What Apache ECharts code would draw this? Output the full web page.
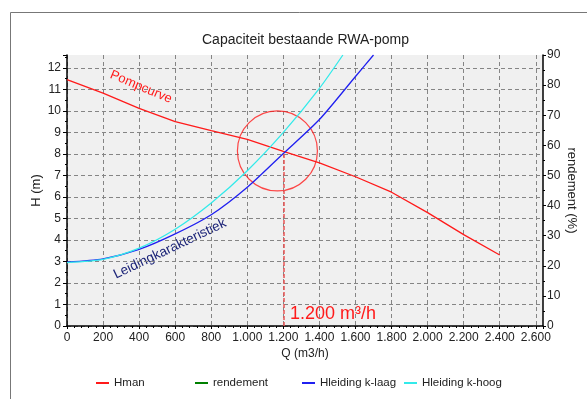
<!DOCTYPE html>
<html>
<head>
<meta charset="utf-8">
<script src="https://cdn.jsdelivr.net/npm/echarts@6/dist/echarts.min.js"></script>
<style>
    html, body {margin:0; padding:0; background:#fff;}
    #pomp {width:587px; height:399px;}
</style>
</head>
<body>
<div id="pomp"></div>
<script>
// Pompcurve (Hman)
var qPomp = [0, 200, 400, 600, 800, 1000, 1200, 1400, 1600, 1800, 2000, 2200, 2400];
var hPomp = [11.45, 10.83, 10.12, 9.5, 9.08, 8.68, 8.12, 7.58, 6.94, 6.22, 5.27, 4.25, 3.3];
// Leidingkarakteristiek k-laag
var qLaag = [0, 200, 400, 600, 800, 1000, 1200, 1400, 1600, 1700];
var hLaag = [2.97, 3.12, 3.56, 4.28, 5.17, 6.45, 8.02, 9.6, 11.6, 12.6];
// Leidingkarakteristiek k-hoog
var qHoog = [0, 200, 400, 600, 800, 1000, 1200, 1400, 1530];
var hHoog = [2.95, 3.1, 3.62, 4.5, 5.72, 7.22, 9.0, 11.05, 12.6];
// werkpunt
var werkpuntQ = 1200;
var werkpuntH = 8.1;
var cirkel = [1167, 8.14];
var legendNames = ['Hman', 'rendement', 'Hleiding k-laag', 'Hleiding k-hoog'];

function pairs(q, h) {
    var out = [];
    for (var i = 0; i < q.length; i++) {
        out.push([q[i], h[i]]);
    }
    return out;
}

function puntNotatie(v) {
    if (v < 1000) return '' + v;
    var rest = '' + (v % 1000);
    while (rest.length < 3) rest = '0' + rest;
    return Math.floor(v / 1000) + '.' + rest;
}

var font = 'Liberation Sans, Arial, sans-serif';
var gridLine = {show: true, showMaxLine: false, lineStyle: {color: '#858585', type: [4, 3], width: 1}};

var myChart = echarts.init(document.getElementById('pomp'));
var option = {
    animation: false,
    backgroundColor: '#fff',
    title: {
        text: 'Capaciteit bestaande RWA-pomp',
        left: 202,
        top: 33,
        padding: 0,
        textStyle: {color: '#222', fontSize: 14, fontWeight: 'normal', fontFamily: font}
    },
    legend: [0, 1, 2, 3].map(function (i) {
        return {
            data: [legendNames[i]],
            left: [96, 195, 302, 404][i],
            top: 377,
            icon: 'rect',
            itemWidth: 13,
            itemHeight: 2,
            padding: 0,
            textStyle: {color: '#222', fontSize: 11.5, fontFamily: font}
        };
    }),
    grid: {
        left: 67,
        right: 44,
        top: 55,
        bottom: 73,
        containLabel: false,
        outerBoundsMode: 'none',
        show: true,
        backgroundColor: '#f0f0f0',
        borderWidth: 0
    },
    xAxis: {
        type: 'value',
        min: 0,
        max: 2640,
        interval: 200,
        name: 'Q (m3/h)',
        nameLocation: 'middle',
        nameGap: 22,
        nameMoveOverlap: false,
        nameTextStyle: {color: '#222', fontSize: 12, fontFamily: font},
        axisLine: {onZero: false, lineStyle: {color: '#000', width: 1.5}},
        axisTick: {length: 3, lineStyle: {color: '#000'}},
        minorTick: {show: true, splitNumber: 5, length: 2, lineStyle: {color: '#000'}},
        axisLabel: {
            color: '#222', fontSize: 12, fontFamily: font, margin: 6,
            showMaxLabel: false,
            formatter: function (v) { return puntNotatie(v); }
        },
        splitLine: gridLine
    },
    yAxis: [
        {
            type: 'value',
            min: 0,
            max: 12.6,
            interval: 1,
            name: 'H (m)',
            nameLocation: 'middle',
            nameRotate: 90,
            nameGap: 24,
            nameMoveOverlap: false,
            nameTextStyle: {color: '#222', fontSize: 13, fontFamily: font},
            axisLine: {show: true, onZero: false, lineStyle: {color: '#000', width: 1.5}},
            axisTick: {show: true, length: 4, lineStyle: {color: '#000'}},
            minorTick: {show: true, splitNumber: 2, length: 2, lineStyle: {color: '#000'}},
            axisLabel: {color: '#222', fontSize: 12, fontFamily: font, margin: 6, showMaxLabel: false},
            splitLine: gridLine
        },
        {
            type: 'value',
            min: 0,
            max: 90,
            interval: 10,
            position: 'right',
            alignTicks: false,
            name: 'rendement (%)',
            nameLocation: 'middle',
            nameRotate: -90,
            nameGap: 22,
            nameMoveOverlap: false,
            nameTextStyle: {color: '#222', fontSize: 13, fontFamily: font},
            axisLine: {show: true, onZero: false, lineStyle: {color: '#000', width: 1.5}},
            axisTick: {show: true, length: 3, lineStyle: {color: '#000'}},
            minorTick: {show: true, splitNumber: 2, length: 2, lineStyle: {color: '#000'}},
            axisLabel: {color: '#222', fontSize: 12, fontFamily: font, margin: 4},
            splitLine: {show: false}
        }
    ],
    series: [
        {
            name: 'Hman',
            type: 'line',
            data: pairs(qPomp, hPomp),
            showSymbol: false,
            color: '#ff1a1a',
            lineStyle: {width: 1.3},
            markLine: {
                silent: true,
                symbol: ['none', 'none'],
                label: {show: false},
                lineStyle: {color: '#e85454', type: [4, 2], width: 1.5, opacity: 1},
                data: [[{coord: [werkpuntQ, 0]}, {coord: [werkpuntQ, werkpuntH]}]]
            }
        },
        {
            name: 'rendement',
            type: 'line',
            yAxisIndex: 1,
            data: [],
            showSymbol: false,
            color: '#008000'
        },
        {
            name: 'Hleiding k-laag',
            type: 'line',
            data: pairs(qLaag, hLaag),
            showSymbol: false,
            smooth: 0.25,
            color: '#2020f0',
            lineStyle: {width: 1.3}
        },
        {
            name: 'Hleiding k-hoog',
            type: 'line',
            data: pairs(qHoog, hHoog),
            showSymbol: false,
            smooth: 0.25,
            color: '#33eaea',
            lineStyle: {width: 1.3}
        },
        {
            type: 'scatter',
            silent: true,
            data: [cirkel],
            symbol: 'circle',
            symbolSize: 80,
            itemStyle: {color: 'rgba(0,0,0,0)', borderColor: '#ff1a1a', borderWidth: 1.2}
        }
    ],
    graphic: [
        {
            type: 'rect',
            silent: true,
            shape: {x: 10.5, y: 12.5, width: 620, height: 420},
            style: {fill: 'none', stroke: '#777', lineWidth: 1}
        },
        {
            type: 'text',
            silent: true,
            x: 141,
            y: 87,
            rotation: -23 * Math.PI / 180,
            style: {text: 'Pompcurve', fill: '#ff1a1a', fontSize: 13, fontFamily: font, align: 'center', verticalAlign: 'middle'}
        },
        {
            type: 'text',
            silent: true,
            x: 170,
            y: 249,
            rotation: 25.5 * Math.PI / 180,
            style: {text: 'Leidingkarakteristiek', fill: '#1c2478', fontSize: 13.5, fontFamily: font, align: 'center', verticalAlign: 'middle'}
        },
        {
            type: 'text',
            silent: true,
            x: 290,
            y: 314,
            style: {text: '1.200 m\u00b3/h', fill: '#ff1a1a', fontSize: 18, fontFamily: font, align: 'left', verticalAlign: 'middle'}
        }
    ]
};
myChart.setOption(option);
</script>
</body>
</html>
